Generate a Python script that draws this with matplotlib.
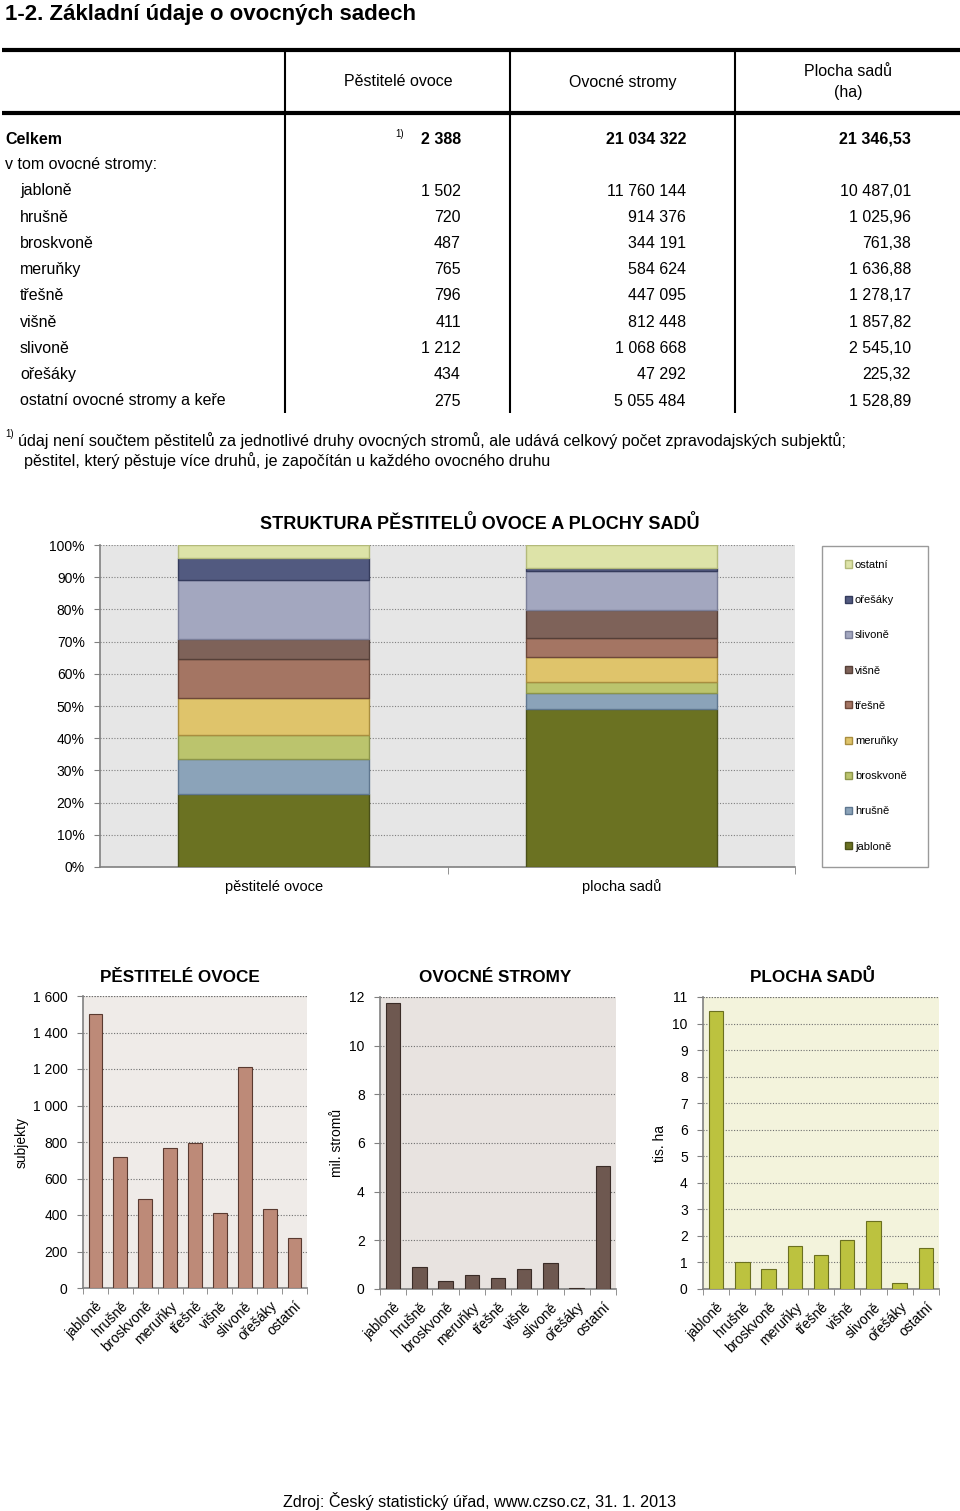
import matplotlib
matplotlib.use("Agg")
import matplotlib.pyplot as plt
from matplotlib.lines import Line2D
from matplotlib.patches import Patch, Rectangle
import numpy as np

plt.rcParams["font.family"] = ["Liberation Sans", "DejaVu Sans"]

# data
druhy = ["jabloně", "hrušně", "broskvoně", "meruňky", "třešně", "višně",
         "slivoně", "ořešáky", "ostatní ovocné stromy a keře"]
druhy_kratke = ["jabloně", "hrušně", "broskvoně", "meruňky", "třešně", "višně",
                "slivoně", "ořešáky", "ostatní"]
pestitele = [1502, 720, 487, 765, 796, 411, 1212, 434, 275]
stromy = [11760144, 914376, 344191, 584624, 447095, 812448, 1068668, 47292, 5055484]
plocha = [10487.01, 1025.96, 761.38, 1636.88, 1278.17, 1857.82, 2545.10, 225.32, 1528.89]
celkem = [2388, 21034322, 21346.53]
struktura_kat = ["pěstitelé ovoce", "plocha sadů"]

barvy = ["#6b7222", "#8ba3b9", "#bbc46d", "#dfc46b", "#a47563", "#7e6259",
         "#a3a7bf", "#525a80", "#dde3a8"]
hrany = ["#4a5018", "#5f7790", "#8c954a", "#a98e3f", "#6e4839", "#553f38",
         "#7a7e98", "#343b5c", "#b3ba7a"]

W, H = 960, 1511
fig = plt.figure(figsize=(W / 100, H / 100), dpi=100)


def fx(x):
    return x / W


def fy(y):
    return 1 - y / H


def ftext(x, y, s, **kw):
    kw.setdefault("va", "center")
    fig.text(fx(x), fy(y), s, **kw)


def fline(x0, y0, x1, y1, lw):
    fig.add_artist(Line2D([fx(x0), fx(x1)], [fy(y0), fy(y1)], color="black",
                          lw=lw, solid_capstyle="butt"))


def px_axes(l, t, r, b):
    return fig.add_axes([fx(l), fy(b), (r - l) / W, (b - t) / H])


def cz_int(n):
    return f"{n:,}".replace(",", " ")


def cz_dec(x):
    return f"{x:,.2f}".replace(",", " ").replace(".", ",")


# ---------- table ----------
ftext(5, 20, "1-2. Základní údaje o ovocných sadech", fontsize=16,
      fontweight="bold", va="baseline")
fline(2, 50, 960, 50, 3)
fline(2, 113, 960, 113, 3)
for xv in [285, 510, 735]:
    fline(xv, 50, xv, 413, 1.5)

ts = 11.5
ftext(398, 82, "Pěstitelé ovoce", fontsize=ts, ha="center")
ftext(623, 82, "Ovocné stromy", fontsize=ts, ha="center")
ftext(848, 72, "Plocha sadů", fontsize=ts, ha="center")
ftext(848, 92, "(ha)", fontsize=ts, ha="center")

ftext(5, 139, "Celkem", fontsize=ts, fontweight="bold")
ftext(395, 134, "1)", fontsize=7)
ftext(461, 139, cz_int(celkem[0]), fontsize=ts, fontweight="bold", ha="right")
ftext(686, 139, cz_int(celkem[1]), fontsize=ts, fontweight="bold", ha="right")
ftext(911, 139, cz_dec(celkem[2]), fontsize=ts, fontweight="bold", ha="right")
ftext(5, 165, "v tom ovocné stromy:", fontsize=ts)

for i, name in enumerate(druhy):
    y = 191 + i * 26.25
    ftext(20, y, name, fontsize=ts)
    ftext(461, y, cz_int(pestitele[i]), fontsize=ts, ha="right")
    ftext(686, y, cz_int(stromy[i]), fontsize=ts, ha="right")
    ftext(911, y, cz_dec(plocha[i]), fontsize=ts, ha="right")

ftext(5, 434, "1)", fontsize=7)
ftext(18, 441, "údaj není součtem pěstitelů za jednotlivé druhy ovocných stromů, "
      "ale udává celkový počet zpravodajských subjektů;", fontsize=11.6)
ftext(24, 461, "pěstitel, který pěstuje více druhů, je započítán u každého "
      "ovocného druhu", fontsize=11.6)

# ---------- stacked chart ----------
ax = px_axes(100, 545, 795, 867)
ax.set_facecolor("#e6e6e6")
podily = np.array([np.array(pestitele) / sum(pestitele) * 100,
                   np.array(plocha) / sum(plocha) * 100])
x = np.arange(len(struktura_kat))
dole = np.zeros(len(struktura_kat))
for i in range(len(druhy_kratke)):
    ax.bar(x, podily[:, i], bottom=dole, width=0.55, color=barvy[i],
           edgecolor=hrany[i], linewidth=1, zorder=3)
    dole += podily[:, i]
ax.set_xlim(-0.5, 1.5)
ax.set_ylim(0, 100)
ax.set_yticks(np.arange(0, 101, 10))
ax.set_yticklabels([f"{v}%" for v in range(0, 101, 10)], fontsize=10)
ax.set_xticks(x)
ax.set_xticklabels(struktura_kat, fontsize=10.5)
ax.set_xticks([0.5, 1.5], minor=True)
ax.tick_params(axis="x", which="major", length=0, pad=9)
ax.tick_params(axis="x", which="minor", length=5, color="#808080")
ax.tick_params(axis="y", length=4, color="#808080", pad=7)
ax.grid(axis="y", color="#7f7f7f", linestyle=(0, (1, 1.5)), linewidth=0.8, zorder=0)
for s in ["top", "right"]:
    ax.spines[s].set_visible(False)
for s in ["left", "bottom"]:
    ax.spines[s].set_color("#808080")
    ax.spines[s].set_linewidth(1.2)
ftext(480, 524, "STRUKTURA PĚSTITELŮ OVOCE A PLOCHY SADŮ", fontsize=13,
      fontweight="bold", ha="center")

# legend frame drawn separately, legend itself without frame
fig.add_artist(Rectangle((fx(822), fy(867)), (928 - 822) / W, (867 - 546) / H,
                         transform=fig.transFigure, facecolor="white",
                         edgecolor="#9a9a9a", linewidth=1))
handles = [Patch(facecolor=barvy[i], edgecolor=hrany[i], label=druhy_kratke[i])
           for i in range(len(druhy_kratke))][::-1]
leg = fig.legend(handles=handles, loc="upper left",
                 bbox_to_anchor=(fx(831), fy(867), (928 - 831) / W, (867 - 546) / H),
                 fontsize=8, handlelength=0.6, handleheight=0.6,
                 handletextpad=0.3, labelspacing=2.27, borderpad=1.25,
                 frameon=False, borderaxespad=0)

# ---------- bottom charts ----------
grafy = [
    dict(box=(83, 996, 307, 1288), vals=pestitele, ymax=1600, step=200,
         bg="#efebe8", col="#bd8a78", edge="#5a3a30", ylabel="subjekty",
         ylx=22, title="PĚSTITELÉ OVOCE", tx=180, thousands=True),
    dict(box=(380, 997, 616, 1289), vals=[v / 1e6 for v in stromy], ymax=12, step=2,
         bg="#e8e3e0", col="#6e5850", edge="#3a2c27", ylabel="mil. stromů",
         ylx=337, title="OVOCNÉ STROMY", tx=495, thousands=False),
    dict(box=(703, 997, 939, 1289), vals=[v / 1000 for v in plocha], ymax=11, step=1,
         bg="#f3f3dc", col="#bcc23f", edge="#6b7020", ylabel="tis. ha",
         ylx=660, title="PLOCHA SADŮ", tx=812, thousands=False),
]

for g in grafy:
    a = px_axes(*g["box"])
    a.set_facecolor(g["bg"])
    xi = np.arange(len(druhy_kratke))
    a.bar(xi, g["vals"], width=0.55, color=g["col"], edgecolor=g["edge"],
          linewidth=0.8, zorder=3)
    a.set_xlim(-0.5, len(druhy_kratke) - 0.5)
    a.set_ylim(0, g["ymax"])
    ticks = np.arange(0, g["ymax"] + 0.001, g["step"])
    a.set_yticks(ticks)
    if g["thousands"]:
        a.set_yticklabels([cz_int(int(t)) for t in ticks], fontsize=10)
    else:
        a.set_yticklabels([f"{int(t)}" for t in ticks], fontsize=10)
    a.set_xticks(xi)
    a.set_xticklabels(druhy_kratke, rotation=45, ha="right", rotation_mode="anchor",
                      fontsize=10)
    a.set_xticks(np.arange(-0.5, len(druhy_kratke)), minor=True)
    a.tick_params(axis="x", which="major", length=0, pad=8)
    a.tick_params(axis="x", which="minor", length=4, color="#808080")
    a.tick_params(axis="y", length=4, color="#808080", pad=7)
    a.grid(axis="y", color="#6f6f6f", linestyle=(0, (1, 1.5)), linewidth=0.8, zorder=0)
    for s in ["top", "right"]:
        a.spines[s].set_visible(False)
    for s in ["left", "bottom"]:
        a.spines[s].set_color("#808080")
        a.spines[s].set_linewidth(1.2)
    a.axhline(g["ymax"], color="#6f6f6f", linestyle=(0, (1, 1.5)), linewidth=0.8)
    a.axvline(len(druhy_kratke) - 0.5, color="#b0b0b0", linewidth=0.6)
    ftext(g["tx"], 977, g["title"], fontsize=12.3, fontweight="bold", ha="center")
    ftext(g["ylx"], 1143, g["ylabel"], fontsize=10, ha="center", rotation=90)

ftext(480, 1501, "Zdroj: Český statistický úřad, www.czso.cz, 31. 1. 2013",
      fontsize=11.6, ha="center")

fig.savefig("out.png", dpi=100, facecolor="white")
